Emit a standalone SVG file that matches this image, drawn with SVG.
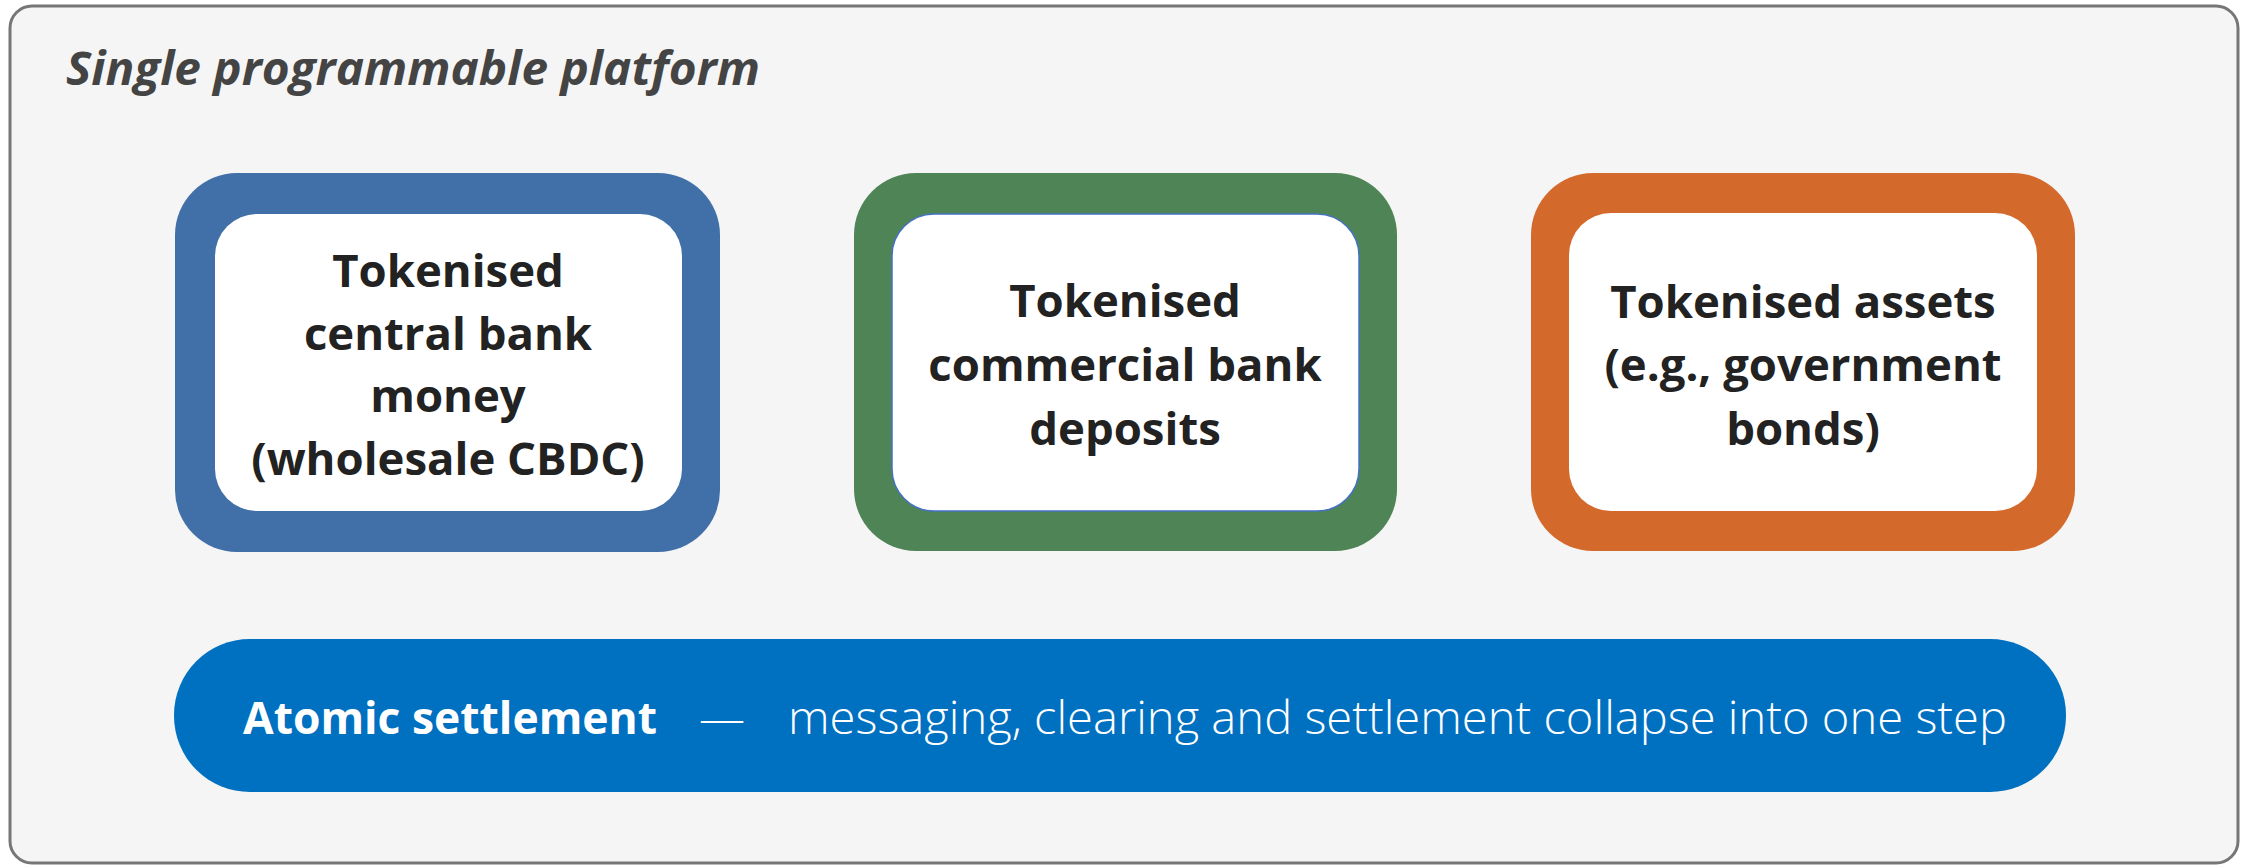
<svg xmlns="http://www.w3.org/2000/svg" width="2247" height="866" viewBox="0 0 2247 866">
<style>
.frame{fill:#F5F5F5;stroke:#767676;stroke-width:3}
.title{font-family:"Open Sans","Noto Sans",sans-serif;font-weight:700;font-style:italic;font-size:46px;fill:#444444}
.inner{fill:#FFFFFF}
.lbl{font-family:"Open Sans","Noto Sans",sans-serif;font-weight:700;font-size:45.5px;fill:#222222;text-anchor:middle}
.bar{fill:#0070C0}
.barB{font-family:"Open Sans","Noto Sans",sans-serif;font-weight:700;font-size:45px;fill:#FFFFFF}
.barL{font-family:"Open Sans","Noto Sans",sans-serif;font-weight:300;font-size:46px;fill:#FFFFFF}
</style>
<rect class="frame" x="10" y="6" width="2228" height="857" rx="22"/>
<text class="title" x="66" y="85" textLength="694" lengthAdjust="spacingAndGlyphs">Single programmable platform</text>
<g id="node-cbdc">
<rect x="175" y="173" width="545" height="379" rx="62" fill="#416FA8"/>
<rect class="inner" x="215" y="214" width="467" height="297" rx="42"/>
<text class="lbl"><tspan x="448" y="287">Tokenised</tspan><tspan x="448" y="350">central bank</tspan><tspan x="448" y="412">money</tspan><tspan x="448" y="475">(wholesale CBDC)</tspan></text>
</g>
<g id="node-deposits">
<rect x="854" y="173" width="543" height="378" rx="62" fill="#4F8456"/>
<rect class="inner" x="892" y="214" width="467" height="297" rx="42" stroke="#4472C4" stroke-width="1.5"/>
<text class="lbl"><tspan x="1125" y="317">Tokenised</tspan><tspan x="1125" y="381">commercial bank</tspan><tspan x="1125" y="445">deposits</tspan></text>
</g>
<g id="node-assets">
<rect x="1531" y="173" width="544" height="378" rx="62" fill="#D4692C"/>
<rect class="inner" x="1569" y="213" width="468" height="298" rx="42"/>
<text class="lbl"><tspan x="1803" y="318">Tokenised assets</tspan><tspan x="1803" y="381">(e.g., government</tspan><tspan x="1803" y="445">bonds)</tspan></text>
</g>
<g id="node-atomic">
<rect class="bar" x="174" y="639" width="1892" height="153" rx="76"/>
<text class="barB" x="243" y="734" textLength="414" lengthAdjust="spacingAndGlyphs">Atomic settlement</text>
<text class="barL" x="699" y="734" textLength="46" lengthAdjust="spacingAndGlyphs">—</text>
<text class="barL" x="788" y="734" textLength="1219" lengthAdjust="spacingAndGlyphs">messaging, clearing and settlement collapse into one step</text>
</g>
<g id="connectors"/>
</svg>
